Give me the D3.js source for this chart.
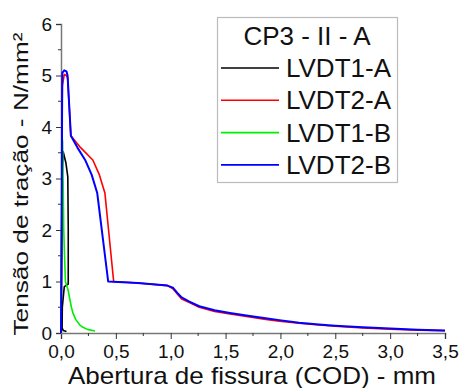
<!DOCTYPE html>
<html>
<head>
<meta charset="utf-8">
<script src="https://cdn.jsdelivr.net/npm/d3@7"></script>
<style>
  body { margin: 0; background: #fff; }
  text { font-family: "Liberation Sans", Arial, sans-serif; fill: #111; }
</style>
</head>
<body>
<div id="chart"></div>
<script>
// valores: [abertura (mm), tensão (N/mm²)]
const lvdt1A = [[0,0],[0.005,1.5],[0.01,3.0],[0.02,3.52],[0.045,3.3],[0.062,3.03],[0.066,2.0],[0.066,0.95],
  [0.03,0.9],[0.012,0.5],[0.01,0.1],[0.02,0.05],[0.05,0.03]];
const lvdt2A = [[0,0],[0.008,2.5],[0.012,4.8],[0.03,5.02],[0.05,5.0],[0.06,4.95],[0.09,3.83],[0.17,3.62],
  [0.29,3.36],[0.35,3.07],[0.40,2.72],[0.48,1.0],[0.7,0.97],[0.97,0.92],[1.02,0.86],[1.06,0.76],
  [1.1,0.66],[1.17,0.59],[1.26,0.5],[1.4,0.42],[1.54,0.37],[1.72,0.31],[1.85,0.27],[1.99,0.23],
  [2.17,0.19],[2.35,0.155],[2.5,0.13],[2.75,0.1],[3.0,0.075],[3.25,0.055],[3.5,0.045]];
const lvdt1B = [[0,0],[0.005,2.0],[0.01,3.8],[0.015,3.7],[0.025,2.0],[0.04,1.0],[0.05,0.93],[0.065,0.83],
  [0.08,0.66],[0.095,0.5],[0.11,0.38],[0.135,0.26],[0.17,0.16],[0.2,0.11],[0.24,0.07],[0.31,0.04]];
const lvdt2B = [[0,0],[0.005,1.5],[0.008,3.0],[0.01,4.5],[0.012,5.05],[0.03,5.1],[0.05,5.08],[0.06,5.0],
  [0.09,3.83],[0.15,3.6],[0.22,3.36],[0.28,3.07],[0.33,2.72],[0.43,1.0],[0.7,0.97],[0.97,0.92],
  [1.02,0.88],[1.06,0.78],[1.1,0.69],[1.17,0.61],[1.26,0.52],[1.4,0.44],[1.54,0.39],[1.72,0.33],
  [1.85,0.29],[1.99,0.25],[2.17,0.2],[2.35,0.165],[2.5,0.14],[2.75,0.11],[3.0,0.085],[3.25,0.065],
  [3.5,0.05]];

const seriesNames = ["LVDT1-A", "LVDT2-A", "LVDT1-B", "LVDT2-B"];
const seriesColors = ["#000000", "#ff0000", "#00ee00", "#0000ff"];
const seriesData = [lvdt1A, lvdt2A, lvdt1B, lvdt2B];

const xTicks = [0, 0.5, 1.0, 1.5, 2.0, 2.5, 3.0, 3.5];
const yTicks = [0, 1, 2, 3, 4, 5, 6];

const width = 462, height = 388;
const margin = { top: 24, right: 17, bottom: 55, left: 61 };

const svg = d3.select("#chart").append("svg")
  .attr("width", width)
  .attr("height", height);

const x = d3.scaleLinear().domain([0, 3.5]).range([margin.left, width - margin.right]);
const y = d3.scaleLinear().domain([0, 6]).range([height - margin.bottom, margin.top]);

// sumbu X
const xAxis = svg.append("g")
  .attr("transform", `translate(0,${y(0)})`)
  .call(d3.axisBottom(x).tickValues(xTicks).tickSize(6).tickPadding(6)
    .tickFormat(d => d3.format(".1f")(d).replace(".", ",")));
xAxis.append("g").selectAll("line")
  .data(d3.range(0.25, 3.5, 0.5))
  .enter().append("line")
  .attr("x1", d => x(d)).attr("x2", d => x(d))
  .attr("y1", 0).attr("y2", 3)
  .attr("stroke", "#333");

// sumbu Y
const yAxis = svg.append("g")
  .attr("transform", `translate(${x(0)},0)`)
  .call(d3.axisLeft(y).tickValues(yTicks).tickSize(5).tickPadding(4).tickFormat(d3.format("d")));
yAxis.append("g").selectAll("line")
  .data(d3.range(0.5, 6, 1))
  .enter().append("line")
  .attr("x1", 0).attr("x2", -3)
  .attr("y1", d => y(d)).attr("y2", d => y(d))
  .attr("stroke", "#333");

[xAxis, yAxis].forEach(a => {
  a.select(".domain").attr("stroke", "#777").attr("stroke-width", 1.5);
  a.selectAll(".tick line").attr("stroke", "#333");
  a.selectAll(".tick text").style("font-size", "19px")
    .style("font-family", "'Liberation Sans', Arial, sans-serif").attr("fill", "#111");
});

// kurva
const line = d3.line().x(d => x(d[0])).y(d => y(d[1]));
seriesData.forEach((s, i) => {
  svg.append("path")
    .datum(s)
    .attr("fill", "none")
    .attr("stroke", seriesColors[i])
    .attr("stroke-width", i === 3 ? 2 : 1.6)
    .attr("stroke-linejoin", "round")
    .attr("d", line);
});

// judul sumbu
svg.append("text")
  .attr("x", 252).attr("y", 384)
  .attr("text-anchor", "middle")
  .attr("textLength", 368).attr("lengthAdjust", "spacingAndGlyphs")
  .style("font-size", "24px")
  .text("Abertura de fissura (COD) - mm");

svg.append("text")
  .attr("transform", "translate(28,184) rotate(-90)")
  .attr("text-anchor", "middle")
  .attr("textLength", 303).attr("lengthAdjust", "spacingAndGlyphs")
  .style("font-size", "21px")
  .text("Tensão de tração - N/mm²");

// legenda
const legend = svg.append("g");
legend.append("rect")
  .attr("x", 217.5).attr("y", 17.5)
  .attr("width", 180).attr("height", 165)
  .attr("fill", "#fff")
  .attr("stroke", "#bbb")
  .attr("stroke-width", 1.2);
legend.append("text")
  .attr("x", 307).attr("y", 45)
  .attr("text-anchor", "middle")
  .style("font-size", "26px")
  .text("CP3 - II - A");
seriesNames.forEach((n, i) => {
  const ly = 68 + i * 32.3;
  legend.append("line")
    .attr("x1", 221).attr("x2", 279)
    .attr("y1", ly).attr("y2", ly)
    .attr("stroke", seriesColors[i])
    .attr("stroke-width", 1.6);
  legend.append("text")
    .attr("x", 286).attr("y", ly + 9)
    .style("font-size", "26px")
    .text(n);
});
</script>
</body>
</html>
